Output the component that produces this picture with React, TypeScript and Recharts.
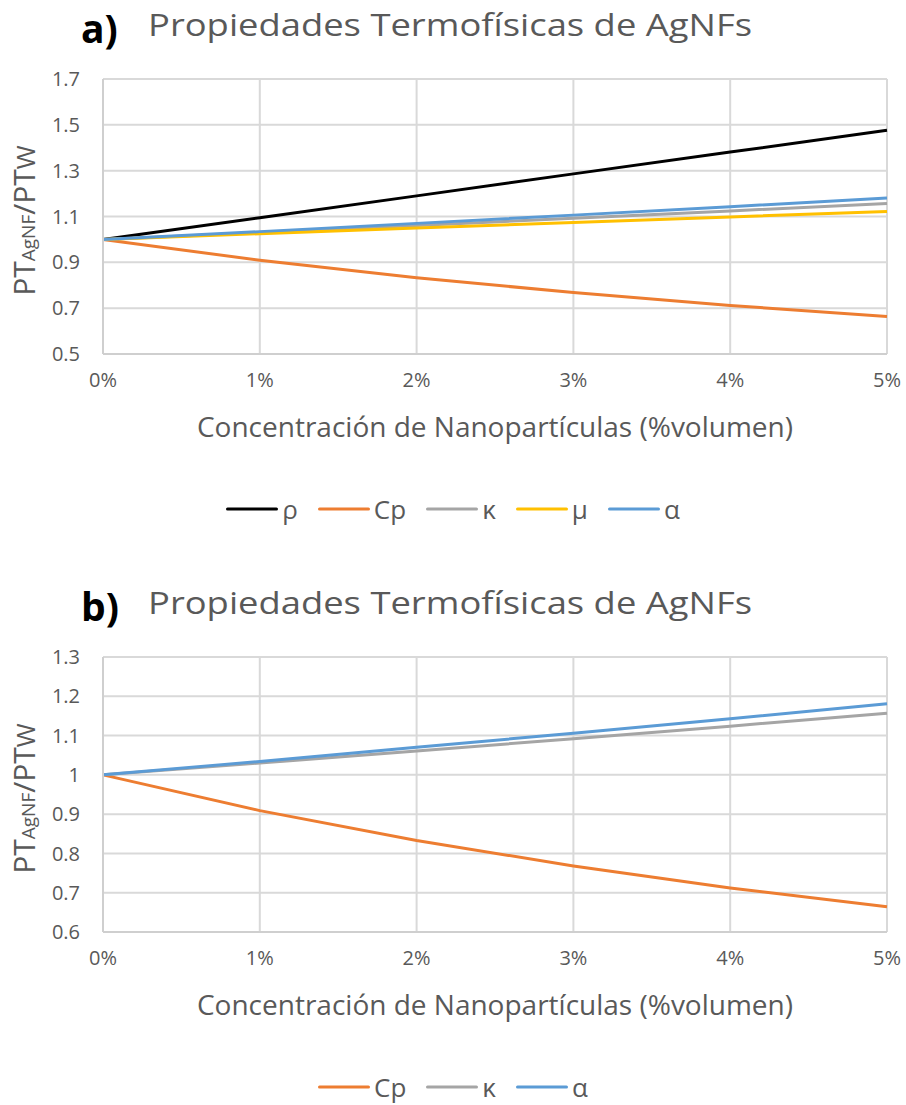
import React from 'react';
import { LineChart, Line, XAxis, YAxis, CartesianGrid } from 'recharts';

const concentration = [0, 0.01, 0.02, 0.03, 0.04, 0.05];
const rhoRatio = [1, 1.095, 1.19, 1.286, 1.381, 1.476];
const cpRatio = [1, 0.909, 0.833, 0.768, 0.712, 0.664];
const kappaRatio = [1, 1.030, 1.061, 1.092, 1.124, 1.157];
const muRatio = [1, 1.025, 1.05, 1.074, 1.098, 1.122];
const alphaRatio = [1, 1.034, 1.070, 1.106, 1.143, 1.181];

const xTicks = [0, 0.01, 0.02, 0.03, 0.04, 0.05];
const yTicksA = [0.5, 0.7, 0.9, 1.1, 1.3, 1.5, 1.7];
const yTicksB = [0.6, 0.7, 0.8, 0.9, 1.0, 1.1, 1.2, 1.3];

const titleText = 'Propiedades Termofísicas de AgNFs';
const xLabelText = 'Concentración de Nanopartículas (%volumen)';

const seriesInfo = [
  { key: 'rho', name: 'ρ', color: '#000000', values: rhoRatio },
  { key: 'cp', name: 'Cp', color: '#ED7D31', values: cpRatio },
  { key: 'kappa', name: 'κ', color: '#A5A5A5', values: kappaRatio },
  { key: 'mu', name: 'μ', color: '#FFC000', values: muRatio },
  { key: 'alpha', name: 'α', color: '#5B9BD5', values: alphaRatio },
];

const rows = concentration.map((c, i) => {
  const r: Record<string, number> = { c };
  seriesInfo.forEach((s) => {
    r[s.key] = s.values[i];
  });
  return r;
});

const FONT = '"Open Sans", sans-serif';
const TXT = '#595959';
const GRID = '#d9d9d9';

const fmtPct = (v: number) => `${Math.round(v * 100)}%`;
const fmtNum = (v: number) => String(Math.round(v * 10) / 10);

function YLabel(props: any) {
  const vb = props.viewBox || { x: 0, y: 79, width: 103, height: 275 };
  const cx = 24;
  const cy = vb.y + vb.height / 2 + 4;
  return (
    <text
      x={cx}
      y={cy + 11}
      transform={`rotate(-90, ${cx}, ${cy})`}
      textAnchor="middle"
      fill={TXT}
      fontFamily={FONT}
    >
      <tspan fontSize={30}>PT</tspan>
      <tspan fontSize={19}>AgNF</tspan>
      <tspan fontSize={30}>/PT</tspan>
      <tspan fontSize={26}>W</tspan>
    </text>
  );
}

function XLabel(props: any) {
  const vb = props.viewBox || { x: 103, y: 354, width: 784, height: 46 };
  return (
    <text
      x={vb.x + vb.width / 2}
      y={vb.y + 83}
      textAnchor="middle"
      fill={TXT}
      fontFamily={FONT}
      fontSize={28}
    >
      {xLabelText}
    </text>
  );
}

function Panel({ letter, top, keys, yTicks }: { letter: string; top: number; keys: string[]; yTicks: number[] }) {
  const series = seriesInfo.filter((s) => keys.includes(s.key));
  return (
    <div style={{ position: 'absolute', left: 0, top, width: 906, height: 560 }}>
      <div style={{ position: 'absolute', left: 0, top: 0 }}>
        <LineChart
          width={906}
          height={560}
          data={rows}
          margin={{ top: 79, right: 19, bottom: 160, left: 0 }}
        >
          <CartesianGrid
            stroke={GRID}
            strokeWidth={2}
            horizontalValues={yTicks}
            verticalValues={xTicks}
          />
          <XAxis
            dataKey="c"
            type="number"
            domain={[0, 0.05]}
            ticks={xTicks}
            tickFormatter={fmtPct}
            height={46}
            tickLine={false}
            tickSize={0}
            tickMargin={19}
            axisLine={{ stroke: '#cfcfcf', strokeWidth: 2 }}
            tick={{ fill: TXT, fontSize: 20, fontFamily: FONT }}
            label={XLabel}
            interval={0}
          />
          <YAxis
            type="number"
            domain={[yTicks[0], yTicks[yTicks.length - 1]]}
            ticks={yTicks}
            tickFormatter={fmtNum}
            width={103}
            tickLine={false}
            tickSize={0}
            tickMargin={23}
            axisLine={{ stroke: '#cfcfcf', strokeWidth: 2 }}
            tick={{ fill: TXT, fontSize: 20, fontFamily: FONT }}
            label={YLabel}
            interval={0}
          />
          {series.map((s) => (
            <Line
              key={s.key}
              type="linear"
              dataKey={s.key}
              name={s.name}
              stroke={s.color}
              strokeWidth={3}
              dot={false}
              activeDot={false}
              isAnimationActive={false}
            />
          ))}
        </LineChart>
      </div>
      <svg width={906} height={70} style={{ position: 'absolute', left: 0, top: 0 }}>
        <text x={81} y={43} fontFamily={FONT} fontWeight="bold" fontSize={39} fill="#000">
          {letter})
        </text>
        <text
          x={148}
          y={36}
          textLength={604}
          lengthAdjust="spacingAndGlyphs"
          fontFamily={FONT}
          fontSize={31}
          fill={TXT}
        >
          {titleText}
        </text>
      </svg>
      <div
        style={{
          position: 'absolute',
          top: 492,
          left: 0,
          width: 906,
          display: 'flex',
          justifyContent: 'center',
          gap: 20,
          fontFamily: FONT,
        }}
      >
        {series.map((s) => (
          <div key={s.key} style={{ display: 'flex', alignItems: 'center' }}>
            <svg width={52} height={6}>
              <line x1={1.5} y1={3} x2={50.5} y2={3} stroke={s.color} strokeWidth={3} strokeLinecap="round" />
            </svg>
            <span style={{ marginLeft: 4, fontSize: 26, color: TXT, lineHeight: '34px' }}>{s.name}</span>
          </div>
        ))}
      </div>
    </div>
  );
}

export default function App() {
  return (
    <div style={{ position: 'absolute', left: 0, top: 0, width: 906, height: 1105, background: '#fff', fontFamily: FONT }}>
      <Panel letter="a" top={0} keys={['rho', 'cp', 'kappa', 'mu', 'alpha']} yTicks={yTicksA} />
      <Panel letter="b" top={578} keys={['cp', 'kappa', 'alpha']} yTicks={yTicksB} />
    </div>
  );
}
